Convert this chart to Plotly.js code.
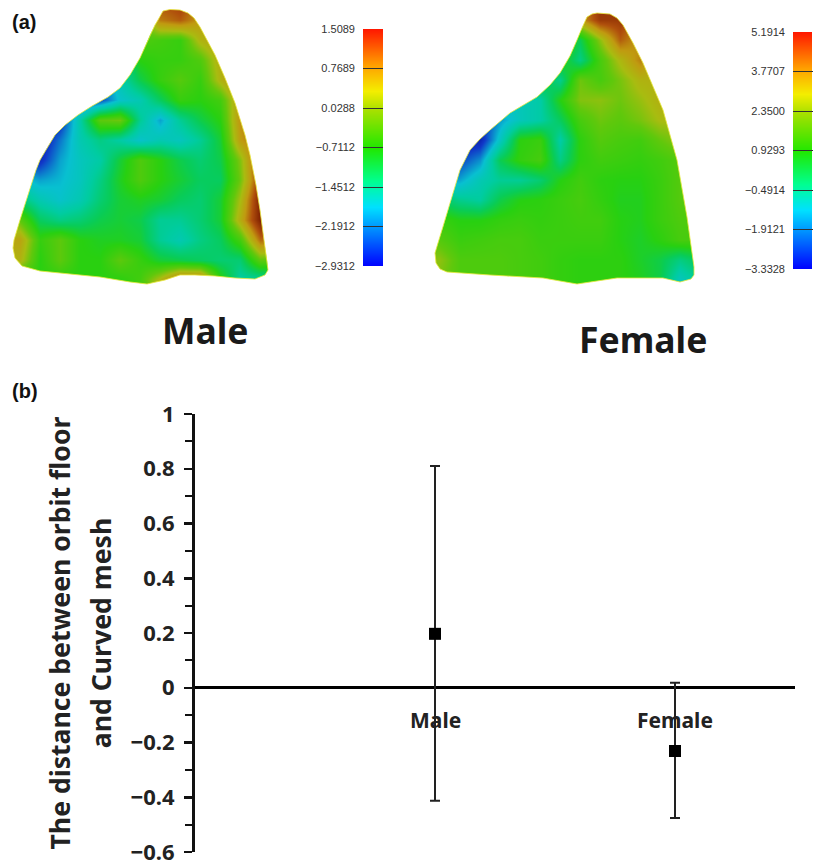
<!DOCTYPE html>
<html><head><meta charset="utf-8">
<script src="https://cdn.plot.ly/plotly-3.0.1.min.js"></script>
<style>html,body{margin:0;padding:0;background:#fff}#c{width:818px;height:861px}</style>
</head><body><div id="c"></div>
<script>
// ---------- panel (b) ----------
const categories = ["Male", "Female"];
const means = [0.197, -0.231];
const errUp = [0.613, 0.249];
const errDown = [0.610, 0.245];
const yTitleLines = ["The distance between orbit floor", "and Curved mesh"];

// ---------- panel (a) : scale bars ----------
const maleTicks = [1.5089, 0.7689, 0.0288, -0.7112, -1.4512, -2.1912, -2.9312];
const femaleTicks = [5.1914, 3.7707, 2.3500, 0.9293, -0.4914, -1.9121, -3.3328];
const maleTickText = ["1.5089", "0.7689", "0.0288", "\u22120.7112", "\u22121.4512", "\u22122.1912", "\u22122.9312"];
const femaleTickText = ["5.1914", "3.7707", "2.3500", "0.9293", "\u22120.4914", "\u22121.9121", "\u22123.3328"];

// ---------- panel (a) : surfaces (estimated deviation on a coarse grid) ----------
const gridX = [0,20,40,60,80,100,120,140,160,180,200,220,240,260,280];
const gridY = [0,20,40,60,80,100,120,140,160,180,200,220,240,260,280,300];
const maleGrid = [
[-.7,-.7,-.7,-.7,-.7,-.7,-.7,.2,1,1.2,.6,-.3,-.3,-.3,-.3],
[-.7,-.7,-.7,-.7,-.7,-.7,-.7,-.5,.7,.9,.5,-.3,-.3,-.3,-.3],
[-.7,-.7,-.7,-.7,-.7,-.7,-.7,-.4,-.5,-.6,.2,.5,.5,.5,.5],
[-1.5,-1.5,-1.5,-1.5,-1.5,-1.5,-1.5,-.7,-.6,-.6,-.4,.3,.8,.8,.8],
[-2.3,-2.3,-2.3,-2.3,-2.3,-2.3,-1.6,-1,-.6,-.35,-.6,.2,.8,.8,.8],
[-2.6,-2.6,-2.6,-2.6,-2.5,-2.4,-1.8,-1.6,-1.1,-.6,-.7,-.5,.5,.8,.8],
[-2.6,-2.6,-2.6,-2.6,-1.5,-.3,-.2,-1.4,-2,-1.4,-1,-.7,.6,.8,.8],
[-2.8,-2.8,-2.8,-2.2,-1.6,-1.3,-1.5,-1.8,-1.6,-1.7,-1.4,-.9,.5,.9,.9],
[-2.6,-2.6,-2.6,-2,-1.7,-1.5,-.9,-.4,-.7,-1,-1.2,-1,-.1,1.2,1.2],
[-1.8,-1.8,-2,-1.9,-1.7,-1.3,-.8,-.4,-.7,-.9,-1.1,-1.1,-.2,1.2,1.2],
[-1.2,-1.2,-1.6,-1.8,-1.6,-1.2,-.9,-.8,-.9,-1.1,-1.2,-.9,.1,1.5,1.5],
[-.3,-.3,-1.1,-1.3,-1.2,-1,-.9,-1,-1.4,-1.4,-1.2,-.9,.3,1.5,1.5],
[.4,.4,-.6,-.3,-.7,-.8,-.8,-.9,-1.4,-1.6,-1.3,-1.1,-.5,.8,.8],
[.2,.2,-.7,-.3,-.7,-.7,-.3,-.6,-.9,-1,-1.1,-1.2,-1.2,-.3,-.3],
[-.7,-.7,-.7,-.7,-.7,-.7,-.7,-.5,.2,1,1,-.6,-1.5,-1.5,-1.5],
[-.7,-.7,-.7,-.7,-.7,-.7,-.7,-.5,.2,1,1,-.6,-1.5,-1.5,-1.5]
];
const femaleGrid = [
[1.5,1.5,1.5,1.5,1.5,1.5,1.5,1.5,3.4,4.8,4.6,3,3,3,3],
[1.5,1.5,1.5,1.5,1.5,1.5,1.5,1.5,3.2,4.6,4.6,3.4,3,3,3],
[1.5,1.5,1.5,1.5,1.5,1.5,1.5,1.5,.3,2.2,4,3.2,3,3,3],
[1,1,1,1,1,1,1,1,-.2,1.4,2.6,3.6,2.8,2.8,2.8],
[.6,.6,.6,.6,.6,.6,.6,-.3,1.9,1.4,2,2.7,2.8,2.8,2.8],
[-.9,-.9,-.9,-.9,-.9,-.9,-.6,.9,2.1,2.2,1.9,2.3,2.8,2.8,2.8],
[-2.6,-2.6,-2.6,-2.6,-1.6,-.9,-.6,.2,1.4,1.9,1.7,2,2.5,2.5,2.5],
[-3,-3,-3,-2.9,-1,1,1.2,-.6,1,1.6,1.4,1.3,1.8,2.2,2.2],
[-2.4,-2.4,-2.4,-1.7,.3,1.1,1.4,-.2,1,1.3,1.2,1.1,1.3,1.6,1.6],
[-1.5,-1.5,-1.5,-.8,-.4,-.4,0,.9,1.3,1,.9,.9,1.2,1.6,1.6],
[.2,.2,-.3,-.5,.4,.9,1,1.2,1.4,1.1,.8,.8,1.2,1.6,1.6],
[1.2,1.2,.9,.9,1.1,1.2,1.1,1.2,1.3,1.3,.9,.8,1.2,1.5,1.5],
[1.6,1.6,1.2,1.3,1.4,1.4,1.2,1.2,1.2,1.2,.9,.7,1,1.4,1.4],
[2.2,2.2,1.5,1.5,1.5,1.4,1.3,1.1,1,1,1,.7,.4,-.2,.3],
[2,2,1.5,1.5,1.5,1.4,1.3,1.1,1,1,1,.8,.4,-1,-.3],
[2,2,1.5,1.5,1.5,1.4,1.3,1.1,1,1,1,.8,.4,-1,-.3]
];
const maleOutlineX = [158,163,170,180,188,194,200,207,215,225,235,245,250,256,260,264,267,268,265,255,235,215,195,180,165,147,130,100,70,40,22,15,13,14,20,28,36,40,47,55,65,78,92,108,120,130,140,150,155,158];
const maleOutlineY = [20,11,9.5,10,13,18,27,40,55,78,103,135,155,185,210,240,260,270,275,279,278,276,275,275,280,284,282,277,274,271,266,258,248,240,220,195,170,160,148,135,125,115,106,97,88,75,58,35,25,20];
const femaleOutlineX = [162,167,172,177,190,197,203,213,223,243,257,267,274,274,271,260,243,197,157,123,70,27,20,16,15,18,23,40,50,60,70,90,117,130,140,150,157,162];
const femaleOutlineY = [28,17,14,13,14,18,25,43,63,110,160,217,267,275,279,282,278,278,284,278,275,272,269,263,253,243,227,170,150,139,130,113,97,85,73,56,40,28];

const rainbow = [[0,'#0000ff'],[0.25,'#00e0ff'],[0.36,'#00ff90'],[0.5,'#20e800'],[0.66,'#a8e000'],[0.74,'#f4ee00'],[0.85,'#ffa000'],[1,'#ff1800']];
const shaded = [[0,'#0a14a0'],[0.1,'#1038c8'],[0.24,'#08c0d0'],[0.33,'#00cca0'],[0.42,'#08cc58'],[0.5,'#28d010'],[0.6,'#60c80c'],[0.68,'#a8bc10'],[0.78,'#c09a10'],[0.88,'#b0500c'],[1,'#802000']];

function surface(grid, ticks, xa, ya){
  return {type:'heatmap', x:gridX, y:gridY, z:grid, xaxis:xa, yaxis:ya, zsmooth:'best',
    colorscale:shaded, zmin:ticks[6], zmax:ticks[0], showscale:false, hoverinfo:'skip'};
}
function mask(ox, oy, W, H, xa, ya){
  const xs=[0,0,W,W,0].concat(ox).concat([0]);
  const ys=[0,H,H,0,0].concat(oy).concat([0]);
  return {type:'scatter', mode:'none', x:xs, y:ys, fill:'toself', fillcolor:'#ffffff', xaxis:xa, yaxis:ya, hoverinfo:'skip', showlegend:false};
}
function outline(ox, oy, xa, ya){
  return {type:'scatter', mode:'lines', x:ox, y:oy, line:{color:'rgba(232,232,60,0.8)',width:1}, xaxis:xa, yaxis:ya, hoverinfo:'skip', showlegend:false};
}
function scaleBar(ticks, xa, ya){
  const levels = ticks.slice().reverse();
  return {type:'heatmap', x:[0,1], y:levels, z:levels.map(v=>[v,v]), xaxis:xa, yaxis:ya, zsmooth:'best',
    colorscale:rainbow, zmin:ticks[6], zmax:ticks[0], showscale:false, hoverinfo:'skip'};
}

const traces = [
  surface(maleGrid, maleTicks, 'x2','y2'),
  mask(maleOutlineX, maleOutlineY, 280, 300, 'x2','y2'),
  outline(maleOutlineX, maleOutlineY, 'x2','y2'),
  surface(femaleGrid, femaleTicks, 'x3','y3'),
  mask(femaleOutlineX, femaleOutlineY, 280, 300, 'x3','y3'),
  outline(femaleOutlineX, femaleOutlineY, 'x3','y3'),
  scaleBar(maleTicks,'x4','y4'),
  scaleBar(femaleTicks,'x5','y5'),
  {type:'scatter', mode:'markers', x:categories, y:means, xaxis:'x', yaxis:'y',
   marker:{symbol:'square',size:12,color:'#000'},
   error_y:{type:'data',symmetric:false,array:errUp,arrayminus:errDown,color:'#222',thickness:2,width:5},
   showlegend:false, hoverinfo:'x+y'}
];

const W=818,H=861;
const dx=(a,b)=>[a/W,b/W], dy=(top,bot)=>[1-bot/H,1-top/H];
const hidden={visible:false,fixedrange:true};
function barAxis(ticks,text,top,bot,anchor){
  return {domain:dy(top,bot),anchor:anchor,range:[ticks[6],ticks[0]],tickmode:'array',tickvals:ticks,ticktext:text,
    ticks:'inside',ticklen:20,tickwidth:1,tickcolor:'#333',showgrid:false,zeroline:false,showline:false,
    ticklabelstandoff:7,tickfont:{family:'"Liberation Sans",Arial,sans-serif',size:11,color:'#333'}};
}
const bold='"Noto Sans","Open Sans",sans-serif';
const layout={
  width:W,height:H,margin:{l:0,r:0,t:0,b:0},paper_bgcolor:'#fff',plot_bgcolor:'#fff',showlegend:false,
  xaxis:{domain:dx(195,795),anchor:'y',type:'category',categoryorder:'array',categoryarray:categories,range:[-1,1.5],visible:false},
  yaxis:{domain:dy(414,852),anchor:'x',range:[-0.6,1],dtick:0.2,tick0:0,ticks:'outside',ticklen:8,tickwidth:2.5,tickcolor:'#111',
    showline:true,linewidth:3,linecolor:'#111',showgrid:false,zeroline:true,zerolinewidth:3,zerolinecolor:'#000',
    minor:{dtick:0.1,ticks:'outside',ticklen:7,tickwidth:2,tickcolor:'#111',showgrid:false},
    ticklabelstandoff:5,ticklabeloverflow:'allow',
    tickfont:{family:bold,size:22,color:'#222',weight:700},
    title:{text:'<span style="font-size:26.6px">'+yTitleLines.join('</span><br><span style="font-size:26.6px">')+'</span>',
      font:{family:bold,size:31.5,color:'#222',weight:700},standoff:10}},
  xaxis2:Object.assign({domain:dx(0,280),anchor:'y2',range:[0,280]},hidden),
  yaxis2:Object.assign({domain:dy(0,300),anchor:'x2',range:[300,0]},hidden),
  xaxis3:Object.assign({domain:dx(420,700),anchor:'y3',range:[0,280]},hidden),
  yaxis3:Object.assign({domain:dy(0,300),anchor:'x3',range:[300,0]},hidden),
  xaxis4:Object.assign({domain:dx(363,383),anchor:'y4',range:[0,1]},hidden),
  yaxis4:barAxis(maleTicks,maleTickText,29,266,'x4'),
  xaxis5:Object.assign({domain:dx(793,812),anchor:'y5',range:[0,1]},hidden),
  yaxis5:barAxis(femaleTicks,femaleTickText,32,269,'x5'),
  annotations:[
    {xref:'paper',yref:'paper',x:10/W,y:1-22/H,xanchor:'left',yanchor:'middle',showarrow:false,text:'<b>(a)</b>',font:{family:'"Liberation Sans",Arial,sans-serif',size:20,color:'#111'}},
    {xref:'paper',yref:'paper',x:10/W,y:1-391/H,xanchor:'left',yanchor:'middle',showarrow:false,text:'<b>(b)</b>',font:{family:'"Liberation Sans",Arial,sans-serif',size:20,color:'#111'}},
    {xref:'paper',yref:'paper',x:205/W,y:1-330/H,xanchor:'center',yanchor:'middle',showarrow:false,text:'<b>'+categories[0]+'</b>',font:{family:bold,size:35.5,color:'#1a1a1a'}},
    {xref:'paper',yref:'paper',x:643/W,y:1-339/H,xanchor:'center',yanchor:'middle',showarrow:false,text:'<b>'+categories[1]+'</b>',font:{family:bold,size:35.5,color:'#1a1a1a'}},
    {xref:'x',yref:'y',x:categories[0],y:-0.118,xanchor:'center',yanchor:'middle',showarrow:false,text:'<b>'+categories[0]+'</b>',font:{family:bold,size:21,color:'#222'}},
    {xref:'x',yref:'y',x:categories[1],y:-0.118,xanchor:'center',yanchor:'middle',showarrow:false,text:'<b>'+categories[1]+'</b>',font:{family:bold,size:21,color:'#222'}}
  ]
};
Plotly.newPlot('c',traces,layout,{displayModeBar:false,staticPlot:true});
</script></body></html>
